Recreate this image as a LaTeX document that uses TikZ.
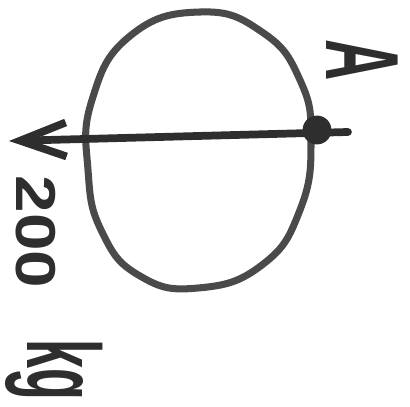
\documentclass[tikz,border=0pt]{standalone}
\usepackage{fontspec}
\setmainfont{Liberation Sans}
\usetikzlibrary{arrows.meta, positioning}

\definecolor{ink}{HTML}{2E2E2E}
\definecolor{pencil}{HTML}{4A4A4A}

\begin{document}
\begin{tikzpicture}[x=0.025cm, y=0.025cm,
    marker/.style={line width=5.5pt, line cap=round, line join=round, draw=ink},
    scrawl/.style={text=ink, rotate=-90, inner sep=0pt},
    blob/.style={circle, fill=ink, inner sep=0pt, minimum size=0.72cm},
    barb/.style={-{Straight Barb[length=1.15cm, width=0.85cm]}}
]
\useasboundingbox (0,0) rectangle (410,-407);

% Egg
\draw[marker, draw=pencil, line width=5pt] plot[smooth cycle, tension=0.8] coordinates {
    (200,-12) (262,-32) (300,-80) (311,-140) (300,-210) (262,-265)
    (198,-288) (140,-276) (102,-232) (88,-170) (92,-100) (130,-36)};

% Point and arrow
\node[blob] (pivot) at (317,-130) {};
\coordinate (tail) at (348,-132);
\coordinate (tip) at (9,-141);
\draw[marker, barb] (tail) -- (tip);

% Labels
\node[scrawl, font=\bfseries\fontsize{40}{40}\selectfont, xscale=1.2] (mass) at (36,-232) {200};
\node[scrawl, font=\bfseries\fontsize{74}{74}\selectfont, xscale=0.55] (labelA) at (362,-60) {A};
\node[scrawl, font=\bfseries\fontsize{74}{74}\selectfont, xscale=0.5] (unit) at (54,-370) {kg};

\end{tikzpicture}
\end{document}
